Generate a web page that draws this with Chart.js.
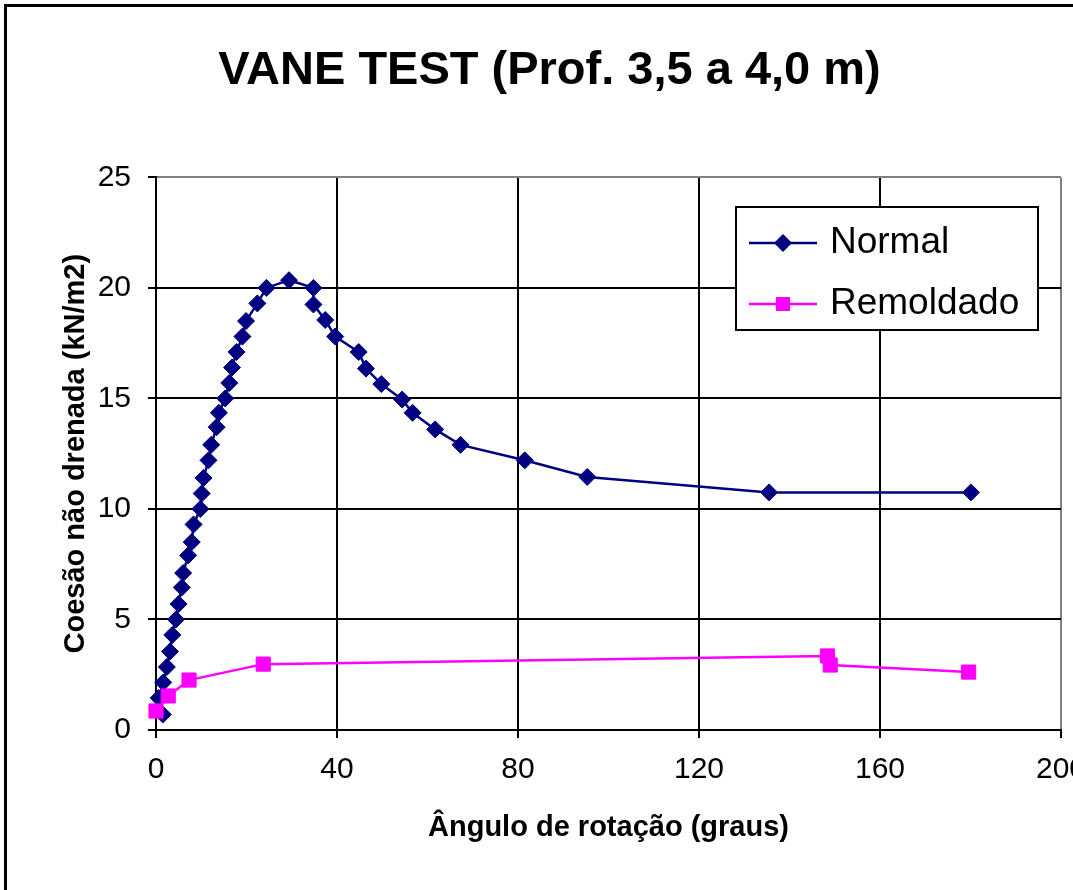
<!DOCTYPE html>
<html>
<head>
<meta charset="utf-8">
<script src="https://cdn.jsdelivr.net/npm/chart.js@4.4.1/dist/chart.umd.min.js"></script>
<style>
  html, body { margin: 0; padding: 0; background: #fff; overflow: hidden; }
  #frame { position: absolute; left: 4px; top: 4px; border: 3px solid #000; background: #fff; }
  #vane-chart { display: block; }
</style>
</head>
<body>
<div id="frame"><canvas id="vane-chart" width="1093" height="900"></canvas></div>
<script>
// ensaio de palheta - curva normal (indeformado)
var normalAngulo = [1.5, 0.6, 1.6, 2.4, 3.1, 3.6, 4.4, 5.0, 5.7, 6.0, 7.1, 7.9, 8.3, 9.8, 10.1, 10.5,
    11.6, 12.2, 13.4, 13.9, 15.3, 16.2, 16.8, 17.8, 19.1, 19.9, 22.4, 24.4, 29.4, 34.8, 34.8, 37.4,
    39.6, 44.8, 46.4, 49.8, 54.4, 56.7, 61.7, 67.3, 81.5, 95.3, 135.5, 180.1]
var normalCoesao = [0.7, 1.45, 2.15, 2.85, 3.55, 4.3, 5.0, 5.7, 6.45, 7.1, 7.9, 8.5, 9.3, 10.0, 10.7, 11.4,
    12.2, 12.9, 13.7, 14.35, 15.0, 15.7, 16.4, 17.1, 17.8, 18.5, 19.3, 20.0, 20.35, 20.0, 19.25, 18.55,
    17.8, 17.1, 16.35, 15.65, 14.95, 14.35, 13.6, 12.9, 12.2, 11.45, 10.75, 10.75]

// curva remoldada
var remoldAngulo = [0, 2.7, 7.3, 23.7, 148.4, 149, 179.6]
var remoldCoesao = [0.86, 1.54, 2.26, 2.98, 3.35, 2.94, 2.62]

// eixos
var xTicks = [0, 40, 80, 120, 160, 200]
var yTicks = [0, 5, 10, 15, 20, 25]

function toPoints(xs, ys) {
    return xs.map(function (x, i) { return { x: x, y: ys[i] } })
}

// legenda com caixa dentro da área do gráfico
var legendBox = {
    id: 'legendBox',
    afterDraw: function (chart) {
        var ctx = chart.ctx
        var bx = 729, by = 200, bw = 302, bh = 123
        ctx.save()
        ctx.fillStyle = '#fff'
        ctx.fillRect(bx, by, bw, bh)
        ctx.lineWidth = 2
        ctx.strokeStyle = '#000'
        ctx.strokeRect(bx, by, bw, bh)

        chart.data.datasets.forEach(function (ds, i) {
            var y = by + 36 + i * 61
            ctx.strokeStyle = ds.borderColor
            ctx.lineWidth = 2.5
            ctx.beginPath()
            ctx.moveTo(bx + 13, y)
            ctx.lineTo(bx + 81, y)
            ctx.stroke()

            var cx = bx + 47
            ctx.fillStyle = ds.backgroundColor
            ctx.beginPath()
            if (ds.pointStyle === 'rectRot') {
                var r = 9
                ctx.moveTo(cx - r, y)
                ctx.lineTo(cx, y - r)
                ctx.lineTo(cx + r, y)
                ctx.lineTo(cx, y + r)
                ctx.closePath()
            } else {
                ctx.rect(cx - 7, y - 7, 14, 14)
            }
            ctx.fill()

            ctx.fillStyle = '#000'
            ctx.font = '37px "Liberation Sans", Arial, sans-serif'
            ctx.textBaseline = 'middle'
            ctx.textAlign = 'left'
            ctx.fillText(ds.label, bx + 94, y)
        })
        ctx.restore()
    }
}

var ctx = document.getElementById('vane-chart').getContext('2d')

new Chart(ctx, {
    type: 'scatter',
    data: {
        datasets: [
            {
                label: 'Normal',
                data: toPoints(normalAngulo, normalCoesao),
                showLine: true,
                borderColor: '#000080',
                backgroundColor: '#000080',
                borderWidth: 2.5,
                pointStyle: 'rectRot',
                pointRadius: 8.5,
                pointBorderWidth: 1,
                pointHoverRadius: 8.5,
                clip: false,
                order: 1
            },
            {
                label: 'Remoldado',
                data: toPoints(remoldAngulo, remoldCoesao),
                showLine: true,
                borderColor: '#ff00ff',
                backgroundColor: '#ff00ff',
                borderWidth: 2.5,
                pointStyle: 'rect',
                pointRadius: 10,
                pointBorderWidth: 1,
                pointHoverRadius: 10,
                clip: false,
                order: 0
            }
        ]
    },
    options: {
        responsive: false,
        animation: false,
        devicePixelRatio: 1,
        layout: { padding: { top: 0, right: 23, bottom: 37, left: 15 } },
        plugins: {
            legend: { display: false },
            tooltip: { enabled: false },
            title: {
                display: true,
                text: 'VANE TEST (Prof. 3,5 a 4,0 m)',
                color: '#000',
                font: { family: '"Liberation Sans", Arial, sans-serif', size: 47, weight: 'bold' },
                padding: { top: 36, bottom: 78 }
            }
        },
        scales: {
            x: {
                type: 'linear',
                min: 0,
                max: 200,
                afterFit: function (scale) { scale.height = 140 },
                afterBuildTicks: function (scale) {
                    scale.ticks = xTicks.map(function (v) { return { value: v } })
                },
                border: { color: '#000', width: 2 },
                grid: {
                    color: function (c) { return c.tick && c.tick.value === 200 ? '#808080' : '#000' },
                    lineWidth: 2,
                    tickLength: 8,
                    tickColor: '#000',
                    tickWidth: 2
                },
                ticks: {
                    color: '#000',
                    padding: 14,
                    maxRotation: 0,
                    font: { family: '"Liberation Sans", Arial, sans-serif', size: 30 }
                },
                title: {
                    display: true,
                    text: 'Ângulo de rotação (graus)',
                    color: '#000',
                    font: { family: '"Liberation Sans", Arial, sans-serif', size: 29, weight: 'bold' },
                    padding: { top: 0, bottom: 25 }
                }
            },
            y: {
                type: 'linear',
                min: 0,
                max: 25,
                afterFit: function (scale) { scale.width = 134 },
                afterBuildTicks: function (scale) {
                    scale.ticks = yTicks.map(function (v) { return { value: v } })
                },
                border: { color: '#000', width: 2 },
                grid: {
                    color: function (c) { return c.tick && c.tick.value === 25 ? '#808080' : '#000' },
                    lineWidth: 2,
                    tickLength: 8,
                    tickColor: '#000',
                    tickWidth: 2
                },
                ticks: {
                    color: '#000',
                    padding: 17,
                    font: { family: '"Liberation Sans", Arial, sans-serif', size: 30 }
                },
                title: {
                    display: true,
                    text: 'Coesão não drenada (kN/m2)',
                    color: '#000',
                    font: { family: '"Liberation Sans", Arial, sans-serif', size: 29, weight: 'bold' },
                    padding: { top: 37, bottom: 0 }
                }
            }
        }
    },
    plugins: [legendBox]
})
</script>
</body>
</html>
